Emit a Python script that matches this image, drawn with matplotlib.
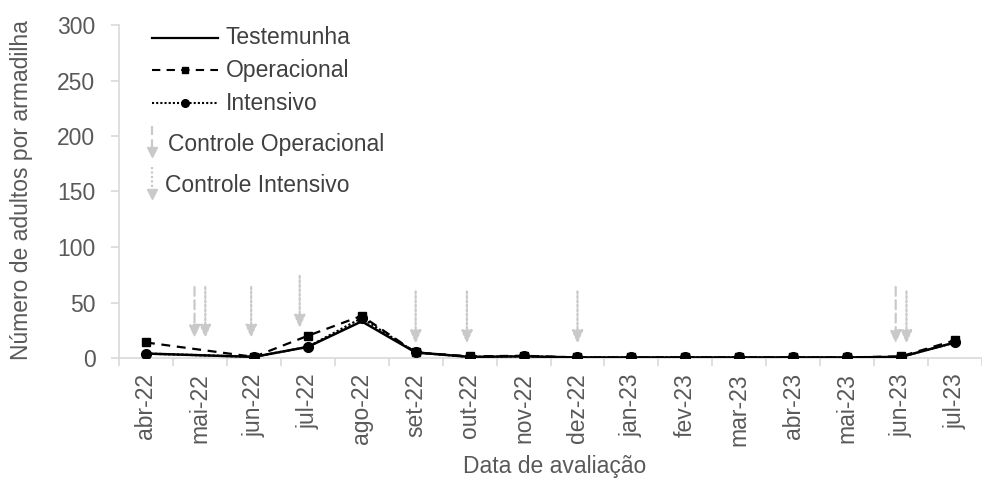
import numpy as np
import matplotlib
matplotlib.use("Agg")
import matplotlib.pyplot as plt
from matplotlib.lines import Line2D

plt.rcParams['font.family'] = ['Liberation Sans', 'DejaVu Sans']

categories = ["abr-22", "mai-22", "jun-22", "jul-22", "ago-22", "set-22", "out-22", "nov-22",
              "dez-22", "jan-23", "fev-23", "mar-23", "abr-23", "mai-23", "jun-23", "jul-23"]
testemunha  = [4, np.nan, 1, 10, 33, 5, 1, 1.5, 0.5, 0.5, 0.5, 0.5, 0.5, 0.5, 1, 14]
operacional = [14, np.nan, 1, 20, 38, 5, 1.5, 2, 0.5, 0.5, 0.5, 0.5, 0.5, 0.5, 1.5, 16]
intensivo   = [4, np.nan, 1, 10, 36, 5, 1, 1.5, 0.5, 0.5, 0.5, 0.5, 0.5, 0.5, 1, 14]

# control application arrows (category position, top value, tip value)
ctrl_oper_x = [0.9, 13.9]
ctrl_oper_top = [64, 64]
ctrl_oper_tip = [18, 13]
ctrl_int_x = [1.1, 1.95, 2.85, 5.0, 5.95, 8.0, 14.1]
ctrl_int_top = [64, 64, 74, 60, 60, 60, 60]
ctrl_int_tip = [18, 18, 27, 13, 13, 13, 13]

W, H = 982, 479
FS = 16.5
fig = plt.figure(figsize=(W/100, H/100), dpi=100)
ax = fig.add_axes([119/W, (H-358)/H, (W-119)/W, (358-25)/H])

x = np.arange(len(categories))
gray_arrow = "#c9c9c9"

def plot_series(vals, **kw):
    v = np.array(vals, dtype=float)
    m = ~np.isnan(v)
    ax.plot(x[m], v[m], **kw)

plot_series(testemunha, color="black", lw=1.8, ls="-", zorder=3)
plot_series(operacional, color="black", lw=1.6, ls=(0, (4, 3)), marker="s", ms=5.5, zorder=4)
plot_series(intensivo, color="black", lw=1.6, ls=(0, (1, 1)), marker="o", ms=7, zorder=5)

def draw_arrows(xs, tops, tips, ls):
    for xi, t, b in zip(xs, tops, tips):
        ax.annotate("", xy=(xi, b), xytext=(xi, t),
                    arrowprops=dict(arrowstyle="-|>,head_length=0.75,head_width=0.33",
                                    color=gray_arrow, lw=1.6, ls=ls,
                                    shrinkA=0, shrinkB=0),
                    zorder=2)

draw_arrows(ctrl_oper_x, ctrl_oper_top, ctrl_oper_tip, (0, (4, 2)))
draw_arrows(ctrl_int_x, ctrl_int_top, ctrl_int_tip, (0, (1, 1)))

ax.set_xlim(-0.5, 15.5 - 11/54.6)
ax.set_ylim(0, 300)
ax.set_yticks([0, 50, 100, 150, 200, 250, 300])
ax.set_xticks(x)
ax.set_xticklabels(categories, rotation=90)
ax.set_xticks(np.arange(-0.5, 16, 1), minor=True)
ax.tick_params(axis="x", which="major", length=0, pad=11, labelsize=FS, labelcolor="#595959")
ax.tick_params(axis="x", which="minor", length=6, color="#d9d9d9", width=1.2)
ax.tick_params(axis="y", length=6, color="#d9d9d9", width=1.2, labelsize=FS, labelcolor="#595959", pad=11)
for s in ["top", "right"]:
    ax.spines[s].set_visible(False)
for s in ["left", "bottom"]:
    ax.spines[s].set_color("#d9d9d9")
    ax.spines[s].set_linewidth(1.2)

fig.text(22/W, 1 - 190/H, "Número de adultos por armadilha", rotation=90, ha="center", va="center",
         fontsize=FS, color="#595959")
fig.text(555/W, 1 - 466/H, "Data de avaliação", ha="center", va="center", fontsize=FS, color="#595959")

# legend (manual)
def fx(px): return px / W
def fy(py): return 1 - py / H
fig.add_artist(Line2D([fx(152), fx(218)], [fy(38), fy(38)], color="black", lw=1.6))
fig.add_artist(Line2D([fx(152), fx(218)], [fy(70), fy(70)], color="black", lw=1.5, ls=(0, (4, 3))))
fig.add_artist(Line2D([fx(185)], [fy(70)], color="black", marker="s", ms=5))
fig.add_artist(Line2D([fx(152), fx(218)], [fy(103), fy(103)], color="black", lw=1.5, ls=(0, (1, 1))))
fig.add_artist(Line2D([fx(185)], [fy(103)], color="black", marker="o", ms=5.5))
for y0, y1, ls in [(126, 156, (0, (4, 2))), (167, 198, (0, (1, 1)))]:
    fig.add_artist(Line2D([fx(152), fx(152)], [fy(y0), fy(y1 - 8)], color=gray_arrow, lw=1.6, ls=ls))
    fig.add_artist(Line2D([fx(152)], [fy(y1 - 4)], color=gray_arrow, marker="v", ms=7, lw=0))
legend_labels = ["Testemunha", "Operacional", "Intensivo", "Controle Operacional", "Controle Intensivo"]
for lab, (px, py) in zip(legend_labels, [(226, 38), (226, 71), (226, 104), (168, 144), (165, 186)]):
    fig.text(fx(px), fy(py), lab, ha="left", va="center", fontsize=FS, color="#404040")

fig.savefig("out.png", dpi=100)
